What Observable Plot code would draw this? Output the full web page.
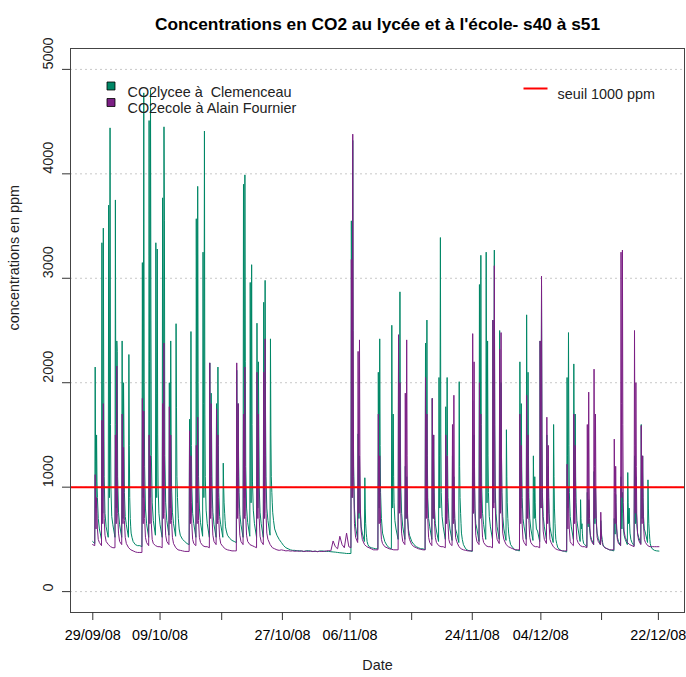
<!DOCTYPE html>
<html>
<head>
<meta charset="utf-8">
<script src="https://cdn.jsdelivr.net/npm/d3@7"></script>
<script src="https://cdn.jsdelivr.net/npm/@observablehq/plot@0.6"></script>
<style>
  body { margin: 0; background: #fff; }
</style>
</head>
<body>
<div id="chart"></div>
<script>
// ---- data ----
const title = "Concentrations en CO2 au lycée et à l'école- s40 à s51";
const xLabel = "Date";
const yLabel = "concentrations en ppm";
const seriesNames = ["CO2lycee à\u00a0 Clemenceau", "CO2ecole à Alain Fournier"];
const seriesColors = ["#008766", "#7b1f84"];
const thresholdValue = 1000;
const thresholdLabel = "seuil 1000 ppm";
const startDate = "2008-09-29T00:00Z";
// hours of the day at which each daily record is sampled
const schoolHours = [0, 7.5, 9, 10.5, 12, 14, 15.5, 17, 20];
const restHours = [0, 8, 16];

// lycée (one entry per day from 29/09/08)
const lyceeDays = [
[480,460,2150,1250,800,1500,1050,900,700],
[600,500,3340,1400,750,3480,2000,1100,750],
[620,520,3700,2700,900,4440,1600,1000,720],
[640,520,3750,1600,800,2400,2300,1100,760],
[640,520,2400,1300,700,2000,1500,950,720],
[640,520,2270,1400,900,700,620,560,520],
[480,450,440],
[440,430,3150,1800,900,4775,2000,1200,800],
[650,520,4510,2200,900,4800,2600,1300,850],
[680,540,3340,1900,900,3280,1500,1000,750],
[640,520,3770,2000,900,4450,3550,1300,850],
[680,540,2000,1200,800,2400,1500,1000,760],
[650,530,2565,1760,1100,900,800,700,600],
[540,500,480],
[460,450,1650,1200,800,2490,1400,1000,750],
[650,520,3570,1900,850,3880,2000,1100,800],
[660,530,3250,1800,900,4410,1700,1100,780],
[650,520,2190,1300,800,1900,1500,1000,760],
[640,520,1800,1200,750,2150,1400,950,720],
[640,520,1230,1000,850,750,680,620,580],
[540,510,490],
[480,470,2120,1300,800,1800,1300,950,740],
[640,520,3900,2000,900,3990,2200,1200,800],
[660,530,2960,1700,850,3130,1600,1050,780],
[650,520,2570,1500,800,2200,1600,1000,760],
[650,520,2770,1500,850,2980,1700,1100,800],
[680,540,2420,1500,1100,950,850,760,680],
[600,540,500],
[470,440,420],
[410,400,395],
[395,390,392],
[388,385,390],
[392,388,385],
[386,384,388],
[390,386,384],
[385,382,380],
[378,375,372],
[370,368,365],
[365,365,3550,1900,900,4320,1900,1200,800],
[620,500,1510,1000,700,1300,900,750,620],
[560,480,1090,800,650,560,520,480,450],
[430,420,415],
[410,410,2100,1300,800,2420,1400,950,700],
[560,480,440],
[420,410,2550,1500,800,1700,1100,850,680],
[600,500,2380,1400,800,2870,1500,1000,750],
[620,500,1200,900,700,1100,850,700,600],
[540,480,450],
[430,420,410],
[410,400,2380,1400,800,2600,1300,900,700],
[620,500,1850,1100,700,1500,1000,800,650],
[580,480,2050,1300,800,3390,1500,950,720],
[620,500,1770,1100,750,2050,1300,900,700],
[600,490,1300,900,700,1100,850,700,600],
[560,470,2010,1200,900,750,650,560,500],
[450,410,395],
[390,385,1830,1100,750,1500,1000,800,650],
[600,480,2940,1600,850,3220,1600,1000,750],
[640,500,3250,1700,850,2400,1300,950,720],
[620,500,2600,1500,850,3270,1600,1000,750],
[620,500,2500,1400,800,2000,1300,950,720],
[600,490,1550,1100,850,700,620,560,500],
[450,420,400],
[395,390,2200,1300,800,1800,1200,900,700],
[620,500,2650,1500,800,2100,1300,900,700],
[600,490,1300,950,700,1100,850,700,600],
[580,480,2400,1400,800,2930,1500,950,720],
[620,500,1500,1000,750,1200,900,750,620],
[560,470,1600,1100,800,650,560,500,460],
[420,400,390],
[385,380,2050,1300,800,2480,1400,950,720],
[620,500,2180,1300,800,1700,1100,850,680],
[600,480,880,700,600,650,560,500,460],
[450,430,950,750,620,880,700,600,540],
[500,450,1150,850,650,1000,780,650,560],
[510,450,680,600,540,500,470,450,430],
[420,410,400],
[395,390,700,600,550,930,700,600,520],
[480,440,1100,800,600,950,750,620,540],
[500,450,1140,850,650,800,650,560,500],
[470,440,1300,900,650,1100,800,650,560],
[520,460,1600,1050,700,1300,900,720,600],
[560,470,1070,800,650,560,500,460,430],
[410,395,390],
[388]
];

// école (one entry per day from 29/09/08)
const ecoleDays = [
[450,440,1120,800,600,900,750,600,500],
[470,440,1640,1000,650,1800,1000,700,540],
[480,450,430],
[420,420,1500,1000,650,2160,1200,750,560],
[480,450,1700,1000,650,1380,900,680,520],
[460,420,400],
[390,380,375],
[375,375,1850,1100,650,1730,1000,700,520],
[470,440,1500,950,650,1300,900,650,500],
[460,440,430],
[430,420,1800,1100,700,2380,1300,750,540],
[480,450,1770,1000,650,1500,950,680,520],
[460,420,400],
[395,390,385],
[385,385,1540,950,650,1300,850,650,500],
[460,440,1400,900,650,1670,1000,680,520],
[470,440,430],
[430,420,2190,1200,700,1800,1100,720,540],
[480,450,1750,1000,650,1500,900,680,520],
[460,430,410],
[400,395,390],
[390,390,2190,1200,700,1800,1100,720,540],
[480,450,1700,1000,700,2150,1200,720,540],
[480,450,440],
[430,420,2100,1200,700,1700,1000,700,530],
[480,450,2100,1200,700,2420,1300,750,560],
[500,450,420],
[410,400,395],
[400,395,390],
[392,388,390],
[386,390,385],
[390,384,388],
[385,388,383],
[388,382,386],
[384,386,390],
[392,390,485],
[430,410,530],
[450,420,560],
[430,420,3180,2000,900,4380,2500,1100,650],
[520,470,2300,1300,750,2410,1300,800,580],
[500,450,430],
[420,410,400],
[400,400,1700,1000,650,1300,900,650,500],
[460,430,420],
[410,405,400],
[400,400,2460,1400,750,2000,1200,750,560],
[480,450,1900,1100,700,2410,1300,750,560],
[500,450,430],
[420,410,405],
[400,400,2050,1200,700,1700,1000,700,520],
[470,440,1850,1100,700,1500,950,680,520],
[470,440,430],
[430,420,1500,950,650,1300,850,650,500],
[460,440,1600,1000,650,1880,1000,700,520],
[480,430,410],
[400,395,390],
[390,390,2470,1400,750,2200,1200,750,540],
[480,450,2000,1100,700,1700,1000,700,520],
[470,440,430],
[430,420,2600,1500,800,3120,1500,850,580],
[500,460,2320,1300,750,2480,1300,780,560],
[500,450,430],
[420,410,400],
[400,400,1700,1000,650,1400,900,650,500],
[470,440,1880,1100,700,1500,950,680,520],
[470,440,430],
[430,420,2400,1400,800,3020,1500,850,580],
[500,460,1670,1000,650,1400,900,650,500],
[470,430,410],
[400,395,390],
[390,390,1220,850,600,1000,750,600,480],
[460,440,1700,1000,650,1400,900,650,500],
[470,440,430],
[430,420,1600,1000,650,1910,1000,700,520],
[480,450,2130,1200,700,1700,1000,700,520],
[480,450,760,600,500,470,450,440,430],
[420,410,400],
[400,400,1460,950,650,1200,850,650,500],
[460,440,3250,1800,900,3270,1600,850,580],
[520,470,450],
[440,430,2500,1400,750,2000,1200,750,550],
[490,450,1590,1000,650,1300,850,650,500],
[470,440,430],
[430,430,430],
[430]
];

const xTickTimes = ["2008-09-29T00:30Z","2008-10-09T00:00Z","2008-10-18T03:24Z","2008-10-27T03:30Z","2008-11-06T04:28Z","2008-11-15T07:44Z","2008-11-24T07:28Z","2008-12-04T11:40Z","2008-12-13T11:45Z","2008-12-21T22:00Z"];
const xTickLabels = ["29/09/08","09/10/08","","27/10/08","06/11/08","","24/11/08","04/12/08","","22/12/08"];
const xDomain = ["2008-09-25T17:10Z", "2008-12-25T19:00Z"];
const yTicks = [0, 1000, 2000, 3000, 4000, 5000];
const yDomain = [-200, 5200];

// ---- build rows ----
const HOUR = 3600e3, DAY = 24 * HOUR;
const t0 = new Date(startDate).getTime();
function toRows(days, name) {
  const rows = [];
  days.forEach((vals, i) => {
    const hours = vals.length === schoolHours.length ? schoolHours
                : vals.length === restHours.length ? restHours : [0];
    vals.forEach((v, j) => rows.push({date: new Date(t0 + i * DAY + hours[j] * HOUR), value: v, series: name}));
  });
  return rows;
}
const lyceeRows = toRows(lyceeDays, seriesNames[0]);
const ecoleRows = toRows(ecoleDays, seriesNames[1]);

const xTicks = xTickTimes.map(s => new Date(s));
const labelByTime = new Map(xTicks.map((d, i) => [+d, xTickLabels[i]]));

const lineSymbol = {
  draw(context, size) {
    const r = Math.sqrt(size / Math.PI);
    context.moveTo(-r, 0);
    context.lineTo(r, 0);
  }
};

const FS = 14.4;

const chart = Plot.plot({
  width: 686,
  height: 677,
  marginLeft: 70,
  marginRight: 2,
  marginTop: 48,
  marginBottom: 65,
  style: {fontFamily: "'Liberation Sans', Arial, sans-serif", fontSize: FS + "px", background: "white", color: "black"},
  x: {type: "utc", domain: xDomain.map(s => new Date(s))},
  y: {domain: yDomain},
  marks: [
    Plot.gridY({ticks: yTicks, stroke: "#c8c8c8", strokeOpacity: 1, strokeDasharray: "2,3"}),
    Plot.line(lyceeRows, {x: "date", y: "value", stroke: seriesColors[0], strokeWidth: 1}),
    Plot.line(ecoleRows, {x: "date", y: "value", stroke: seriesColors[1], strokeWidth: 1}),
    Plot.ruleY([thresholdValue], {stroke: "#ff0000", strokeWidth: 2}),
    Plot.frame({stroke: "#444"}),
    Plot.axisX({ticks: xTicks, tickFormat: d => labelByTime.get(+d) ?? "", tickSize: 8, tickPadding: 9, fontSize: FS, label: null, stroke: "#333"}),
    Plot.axisY({ticks: yTicks, tickFormat: () => "", tickSize: 8, label: null, stroke: "#333"}),
    Plot.text(yTicks, {y: d => d, text: d => String(d), frameAnchor: "left", dx: -22, rotate: -90, fontSize: FS, fill: "#222"}),
    Plot.text([title], {text: d => d, frameAnchor: "top", dy: -31, fontSize: 17.3, fontWeight: "bold"}),
    Plot.text([xLabel], {text: d => d, frameAnchor: "bottom", dy: 57, fontSize: FS, fill: "#222"}),
    Plot.text([yLabel], {text: d => d, frameAnchor: "left", dx: -56, rotate: -90, fontSize: FS, fill: "#222"}),
    // legend (left)
    Plot.dot([0], {frameAnchor: "top-left", dx: 40.5, dy: 37.5, symbol: "square", r: 4.5, fill: seriesColors[0], stroke: "black", strokeWidth: 0.8}),
    Plot.dot([0], {frameAnchor: "top-left", dx: 40.5, dy: 54, symbol: "square", r: 4.5, fill: seriesColors[1], stroke: "black", strokeWidth: 0.8}),
    Plot.text([seriesNames[0]], {text: d => d, frameAnchor: "top-left", dx: 57, dy: 38, textAnchor: "start", fontSize: FS, fill: "#222"}),
    Plot.text([seriesNames[1]], {text: d => d, frameAnchor: "top-left", dx: 57, dy: 54.5, textAnchor: "start", fontSize: FS, fill: "#222"}),
    // legend (right)
    Plot.dot([0], {frameAnchor: "top-right", dx: -149, dy: 40, symbol: lineSymbol, r: 12, stroke: "#ff0000", strokeWidth: 2, fill: "none"}),
    Plot.text([thresholdLabel], {text: d => d, frameAnchor: "top-right", dx: -127, dy: 40, textAnchor: "start", fontSize: FS, fill: "#222"})
  ]
});
document.getElementById("chart").appendChild(chart);
</script>
</body>
</html>
